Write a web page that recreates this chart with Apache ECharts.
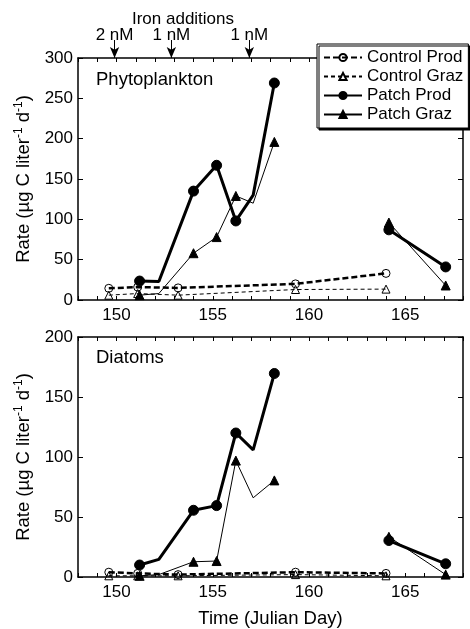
<!DOCTYPE html>
<html>
<head>
<meta charset="utf-8">
<script src="https://cdn.jsdelivr.net/npm/echarts@6/dist/echarts.min.js"></script>
<style>
  html, body { margin: 0; padding: 0; background: #fff; }
  #chart { width: 470px; height: 629px; }
</style>
</head>
<body>
<div id="chart"></div>
<script>
// sampling days (Julian day)
const ctrlDays = [149.6, 151.1, 153.2, 159.3, 164.0];
const patchDays = [151.2, 152.2, 154.0, 155.2, 156.2, 157.1, 158.2, 164.15, 167.1];
const unmarkedDays = [152.2, 157.1];
const gapAfterDay = 158.2;

// Phytoplankton rates (ug C / liter / day)
const phytoCtrlProd = [14.5, 16, 15, 20, 33];
const phytoCtrlGraz = [6, 8, 6, 13, 13.5];
const phytoPatchProd = [23.5, 23, 135, 167, 98, 130, 269, 87, 41];
const phytoPatchGraz = [6, 8, 58, 78, 129, 120, 196, 96, 18];

// Diatom rates
const diatCtrlProd = [4, 3, 2, 4, 3];
const diatCtrlGraz = [1, 1, 1, 2, 1];
const diatPatchProd = [10, 14.7, 55.6, 59.5, 120, 106, 169.6, 30.4, 11];
const diatPatchGraz = [1, 2, 12.7, 13.3, 97, 66, 80.5, 33.5, 2];

// iron additions
const ironDays = [149.9, 152.85, 156.9];
const ironLabels = ['2 nM', '1 nM', '1 nM'];

const FONT = 'Liberation Sans, Arial, Helvetica, sans-serif';
const chart = echarts.init(document.getElementById('chart'));

function toPoints(xs, ys) {
  const pts = [];
  xs.forEach((x, i) => {
    if (unmarkedDays.includes(x)) pts.push({ value: [x, ys[i]], symbol: 'none' });
    else pts.push([x, ys[i]]);
    if (x === gapAfterDay) pts.push([x, '-']);
  });
  return pts;
}

const styles = {
  'Control Prod': { symbol: 'circle', symbolSize: 8, width: 2.5, type: [6, 3], fill: 'rgba(0,0,0,0)' },
  'Control Graz': { symbol: 'triangle', symbolSize: 8, width: 1, type: [4, 3], fill: 'rgba(0,0,0,0)' },
  'Patch Prod': { symbol: 'circle', symbolSize: 10, width: 3, type: 'solid', fill: '#000' },
  'Patch Graz': { symbol: 'triangle', symbolSize: 9, width: 1, type: 'solid', fill: '#000' }
};

function mk(name, xs, ys, axisIdx) {
  const s = styles[name];
  return {
    name: name, type: 'line',
    xAxisIndex: axisIdx, yAxisIndex: axisIdx,
    data: toPoints(xs, ys),
    symbol: s.symbol, symbolSize: s.symbolSize,
    lineStyle: { color: '#000', width: s.width, type: s.type },
    itemStyle: { color: s.fill, borderColor: '#000', borderWidth: 1 },
    emphasis: { disabled: true },
    connectNulls: false, clip: false, z: 3
  };
}

function xAxes(gi, showName) {
  const common = {
    type: 'value', gridIndex: gi, min: 148, max: 168, interval: 1,
    axisLine: { show: true, onZero: false, lineStyle: { color: '#000', width: 1.5 } },
    axisTick: { show: true, inside: true, length: 4, lineStyle: { color: '#000', width: 1 } },
    splitLine: { show: false }
  };
  return [
    Object.assign({}, common, {
      position: 'bottom',
      axisLabel: {
        show: true, color: '#000', fontSize: 17, fontFamily: FONT, margin: 7,
        formatter: v => (v % 5 === 0 ? String(v) : '')
      },
      name: showName ? 'Time (Julian Day)' : '',
      nameLocation: 'middle', nameGap: 32,
      nameTextStyle: { color: '#000', fontSize: 18.5, fontFamily: FONT }
    }),
    Object.assign({}, common, { position: 'top', axisLabel: { show: false } })
  ];
}

const yName = '{a|Rate (µg C liter}{s|-1}{a| d}{s|-1}{a|)}';
function yAxes(gi, max) {
  const common = {
    type: 'value', gridIndex: gi, min: 0, max: max, interval: 50,
    axisLine: { show: true, onZero: false, lineStyle: { color: '#000', width: 1.5 } },
    axisTick: { show: true, inside: true, length: 5, lineStyle: { color: '#000', width: 1 } },
    splitLine: { show: false }
  };
  return [
    Object.assign({}, common, {
      position: 'left',
      axisLabel: { color: '#000', fontSize: 17, fontFamily: FONT, margin: 5 },
      name: yName, nameLocation: 'middle', nameGap: 44, nameRotate: 90,
      nameTextStyle: {
        color: '#000',
        rich: {
          a: { fontSize: 18.5, fontFamily: FONT, color: '#000', lineHeight: 21 },
          s: { fontSize: 12, fontFamily: FONT, color: '#000', verticalAlign: 'top', lineHeight: 21 }
        }
      }
    }),
    Object.assign({}, common, { position: 'right', axisLabel: { show: false } })
  ];
}

const option = {
  backgroundColor: '#fff',
  animation: false,
  grid: [
    { left: 78, top: 58, width: 385, height: 242 },
    { left: 78, top: 337, width: 385, height: 241 },
    { left: 78, top: 40, width: 385, height: 18 }
  ],
  xAxis: [
    ...xAxes(0, false),
    ...xAxes(1, true),
    { type: 'value', gridIndex: 2, min: 148, max: 168, show: false }
  ],
  yAxis: [
    ...yAxes(0, 300),
    ...yAxes(1, 200),
    { type: 'value', gridIndex: 2, min: 0, max: 1, show: false }
  ],
  title: [
    { text: 'Phytoplankton', left: 96, top: 70, padding: 0,
      textStyle: { fontSize: 18.5, fontWeight: 'normal', fontFamily: FONT, color: '#000' } },
    { text: 'Diatoms', left: 96, top: 348, padding: 0,
      textStyle: { fontSize: 18.5, fontWeight: 'normal', fontFamily: FONT, color: '#000' } }
  ],
  graphic: [
    { type: 'text', x: 183, y: 19,
      style: { text: 'Iron additions', fontSize: 17, fontFamily: FONT, fill: '#000',
        align: 'center', verticalAlign: 'middle' } }
  ],
  legend: {
    orient: 'vertical', left: 317, top: 44, z: 10,
    padding: [4, 5, 4, 6], itemGap: 0, itemWidth: 38, itemHeight: 9,
    backgroundColor: '#fff', borderColor: '#000', borderWidth: 1,
    shadowColor: '#000', shadowBlur: 0, shadowOffsetX: 2, shadowOffsetY: 2,
    textStyle: { color: '#000', fontSize: 17, fontFamily: FONT, lineHeight: 19 },
    selectedMode: false,
    data: ['Control Prod', 'Control Graz', 'Patch Prod', 'Patch Graz']
  },
  series: [
    mk('Control Prod', ctrlDays, phytoCtrlProd, 0),
    mk('Control Graz', ctrlDays, phytoCtrlGraz, 0),
    mk('Patch Prod', patchDays, phytoPatchProd, 0),
    mk('Patch Graz', patchDays, phytoPatchGraz, 0),
    mk('Control Prod', ctrlDays, diatCtrlProd, 2),
    mk('Control Graz', ctrlDays, diatCtrlGraz, 2),
    mk('Patch Prod', patchDays, diatPatchProd, 2),
    mk('Patch Graz', patchDays, diatPatchGraz, 2),
    {
      type: 'line', xAxisIndex: 4, yAxisIndex: 4, data: [], silent: true,
      markLine: {
        silent: true, symbol: ['none', 'arrow'], symbolSize: [7, 11],
        lineStyle: { color: '#000', width: 1, type: 'solid' },
        label: { show: true, position: 'start', distance: -4, color: '#000',
          fontSize: 17, fontFamily: FONT, formatter: p => p.name },
        data: ironDays.map((d, i) => [
          { name: ironLabels[i], coord: [d, 1] },
          { coord: [d, 0] }
        ])
      }
    }
  ]
};
chart.setOption(option);
</script>
</body>
</html>
